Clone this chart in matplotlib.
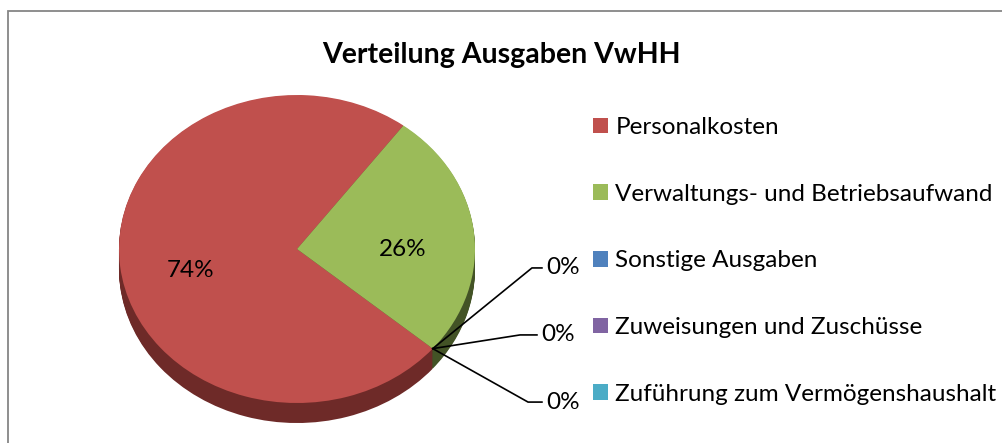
import numpy as np
import matplotlib as mpl
mpl.use('Agg')
import matplotlib.pyplot as plt
from matplotlib.patches import Rectangle

# data
categories = ['Personalkosten', 'Verwaltungs- und Betriebsaufwand', 'Sonstige Ausgaben',
              'Zuweisungen und Zuschüsse', 'Zuführung zum Vermögenshaushalt']
shares = [74, 26, 0, 0, 0]
title = 'Verteilung Ausgaben VwHH'

top_colors = ['#C0504D', '#9BBB59', '#4F81BD', '#8064A2', '#4BACC6']
side_colors = ['#6E2A28', '#435326', '#2B4A6E', '#483860', '#2A6272']

plt.rcParams['font.family'] = ['Lato', 'DejaVu Sans']

W, H = 1003, 443
fig = plt.figure(figsize=(W / 100, H / 100), dpi=100)
ax = fig.add_axes([0, 0, 1, 1])

# Excel: first slice angle ~130 deg, clockwise
start = 90 - 130.3
depth = 0.13

# side of the "3d" pie: stacked darker copies
for k in np.linspace(depth, 0.005, 20):
    ax.pie(shares, colors=side_colors, startangle=start, counterclock=False,
           center=(0, -k), wedgeprops=dict(linewidth=0))

wedges, _, autotexts = ax.pie(shares, colors=top_colors, startangle=start, counterclock=False,
                              autopct=lambda p: '%d%%' % round(p) if p > 1 else '',
                              pctdistance=0.6, wedgeprops=dict(linewidth=0),
                              textprops=dict(fontsize=17.5, color='black'))
for t in autotexts:
    x, y = t.get_position()
    t.set_position((x, y - 0.07))

ax.set_aspect('auto')
ax.set_xlim(-297 / 178, (W - 297) / 178)
ax.set_ylim((249 - H) / 154, 249 / 154)
ax.axis('off')

# leader lines for the zero slices
elbows = [(1.32, -0.123), (1.253, -0.558), (1.298, -0.994)]
ends = [1.376, 1.348, 1.376]
for w, s, (ex, ey), x2 in zip(wedges[2:], shares[2:], elbows, ends):
    a = np.deg2rad(w.theta1)
    px, py = np.cos(a), np.sin(a)
    ax.plot([px, ex, x2], [py, ey, ey], color='black', lw=1.2, clip_on=False)
    ax.text(x2 + 0.025, ey, '%d%%' % s, fontsize=17.5, va='center', ha='left')

fig.text(0.5, 1 - 55 / H, title, ha='center', va='center', fontsize=20.5, fontweight='bold')

fig.legend(wedges, categories, loc='upper left', bbox_to_anchor=(593 / W, 1 - 117 / H),
           frameon=False, fontsize=17.5, handlelength=0.62, handleheight=0.62,
           handletextpad=0.3, labelspacing=1.88, borderpad=0, borderaxespad=0)

fig.patches.append(Rectangle((8 / W, -0.1), 1.2, 1 - 11 / H + 0.1, transform=fig.transFigure,
                             fill=False, edgecolor='#868686', lw=1.3))

fig.savefig('out.png', dpi=100)
